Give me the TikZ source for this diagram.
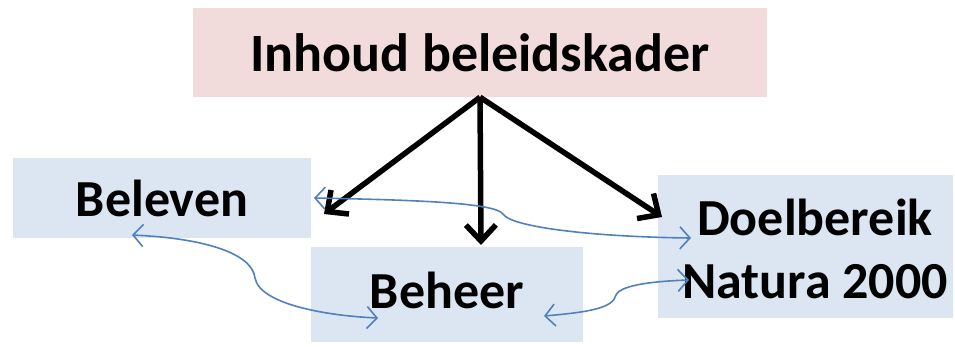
\documentclass[tikz,border=0pt]{standalone}
\usepackage{fontspec}
\setmainfont{Carlito}
\usetikzlibrary{arrows.meta}
\usetikzlibrary{positioning}
\definecolor{boxblue}{RGB}{220,230,242}
\definecolor{boxpink}{RGB}{242,220,219}
\definecolor{linkblue}{RGB}{79,129,189}

\begin{document}
\begin{tikzpicture}[x=1pt,y=-1pt,every node/.style={font=\fontsize{52}{63}\selectfont\bfseries,inner sep=0pt},
  main/.style={line width=5.5pt,-{Straight Barb[length=16pt,width=30pt,line width=5.5pt]}},
  link/.style={linkblue,line width=1.6pt,{Straight Barb[length=10pt,width=22pt,line width=1.6pt]}-{Straight Barb[length=10pt,width=22pt,line width=1.6pt]}}]
  \useasboundingbox (0,0) rectangle (955,346);

  \node (kader) at (480,52.5)[fill=boxpink,minimum width=574pt,minimum height=89pt,font=\fontsize{54}{63}\selectfont\bfseries]{Inhoud beleidskader};
  \node (beleven) at (162,198)[fill=boxblue,minimum width=298pt,minimum height=80pt]{Beleven};
  \node (beheer) at (447,294.5)[fill=boxblue,minimum width=272pt,minimum height=95pt,text depth=8pt]{Beheer};
  \node (doel) at (805.5,246.5)[fill=boxblue,minimum width=295pt,minimum height=143pt]{};
  \node (doeltekst) at (815,249)[align=center]{Doelbereik\\Natura 2000};

  \coordinate (a1) at (324,214);
  \coordinate (a2) at (481,245);
  \coordinate (a3) at (662,217);
  \draw[main](kader.south)--(a1);
  \draw[main](kader.south)--(a2);
  \draw[main](kader.south)--(a3);

  \coordinate (b1) at (314,198);
  \coordinate (b2) at (691,238);
  \coordinate (c1) at (132,235);
  \coordinate (c2) at (378,318);
  \coordinate (d1) at (544,316);
  \coordinate (d2) at (689,280);
  \draw[link](b1) .. controls (420,200) and (495,203) .. (503,214) .. controls (512,228) and (600,237) .. (b2);
  \draw[link](c1) .. controls (200,238) and (252,252) .. (255,278) .. controls (260,305) and (330,316) .. (c2);
  \draw[link](d1) .. controls (590,312) and (613,308) .. (616,295) .. controls (621,284) and (660,281) .. (d2);
\end{tikzpicture}
\end{document}
